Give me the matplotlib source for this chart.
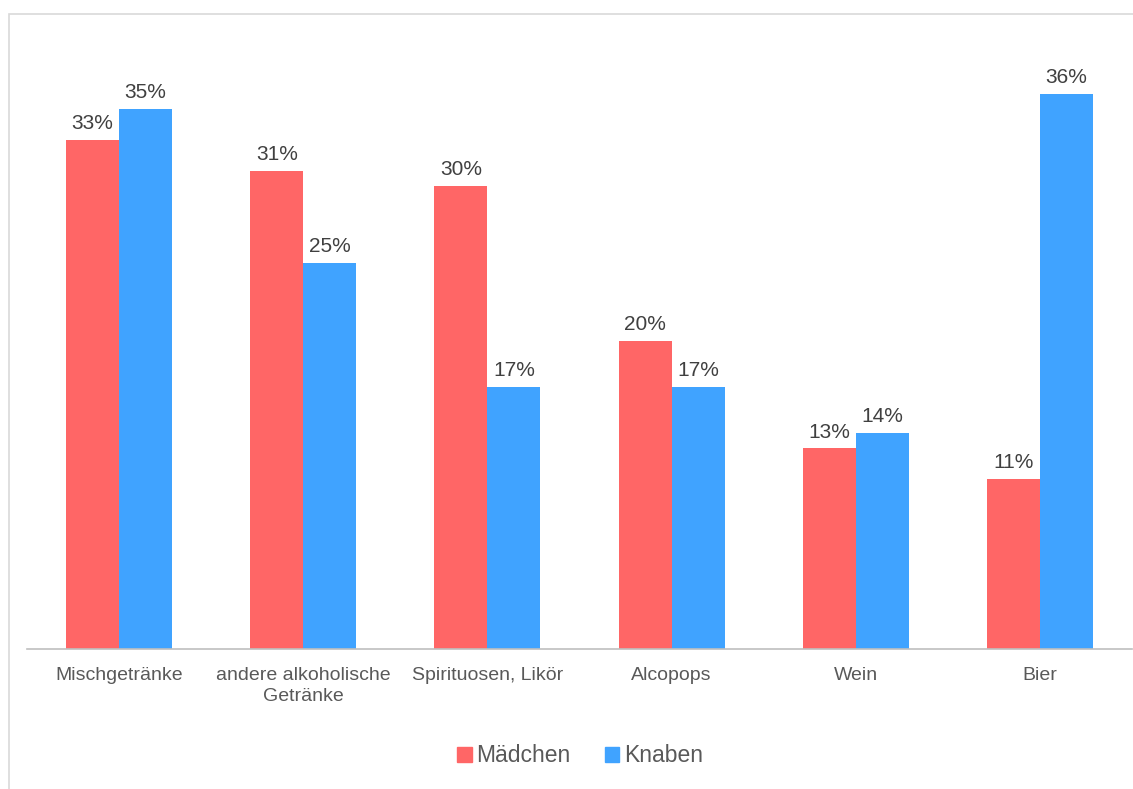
import matplotlib.pyplot as plt
import numpy as np
from matplotlib.patches import Patch, Rectangle

categories = ["Mischgetränke", "andere alkoholische\nGetränke", "Spirituosen, Likör",
              "Alcopops", "Wein", "Bier"]
maedchen = [33, 31, 30, 20, 13, 11]
knaben = [35, 25, 17, 17, 14, 36]
series_names = ["Mädchen", "Knaben"]

RED = "#FF6666"
BLUE = "#40A3FF"

plt.rcParams["font.family"] = ["Liberation Sans", "DejaVu Sans"]

fig = plt.figure(figsize=(11.33, 7.89), dpi=100)
ax = fig.add_axes([27 / 1133, 140 / 789, 1105 / 1133, 617 / 789])

x = np.arange(len(categories))
w = 0.288
b1 = ax.bar(x - w / 2, maedchen, w, color=RED)
b2 = ax.bar(x + w / 2, knaben, w, color=BLUE)

for bars in (b1, b2):
    ax.bar_label(bars, labels=[f"{v}%" for v in bars.datavalues], padding=5,
                 fontsize=15, color="#404040")

ax.set_xlim(-0.5, len(categories) - 0.5)
ax.set_ylim(0, 40)
ax.set_yticks([])
ax.set_xticks(x)
ax.set_xticklabels(categories, fontsize=14, color="#595959", linespacing=1.32)
ax.tick_params(axis="x", length=0, pad=13)
for s in ("top", "right", "left"):
    ax.spines[s].set_visible(False)
ax.spines["bottom"].set_color("#bfbfbf")
ax.spines["bottom"].set_linewidth(1.2)

handles = [Patch(color=RED, label=series_names[0]), Patch(color=BLUE, label=series_names[1])]
leg = fig.legend(handles=handles, loc="center", bbox_to_anchor=(0.512, 0.042), ncol=2,
                 frameon=False, fontsize=16.5, handlelength=0.62, handleheight=0.62,
                 handletextpad=0.2, columnspacing=1.5)
for t in leg.get_texts():
    t.set_color("#595959")

# light frame around the chart area
fig.patches.append(Rectangle((9 / 1133, -0.1), 1.2, (789 - 14) / 789 + 0.1,
                             transform=fig.transFigure, fill=False,
                             edgecolor="#d9d9d9", linewidth=1.2))

fig.savefig("out.png", dpi=100)
